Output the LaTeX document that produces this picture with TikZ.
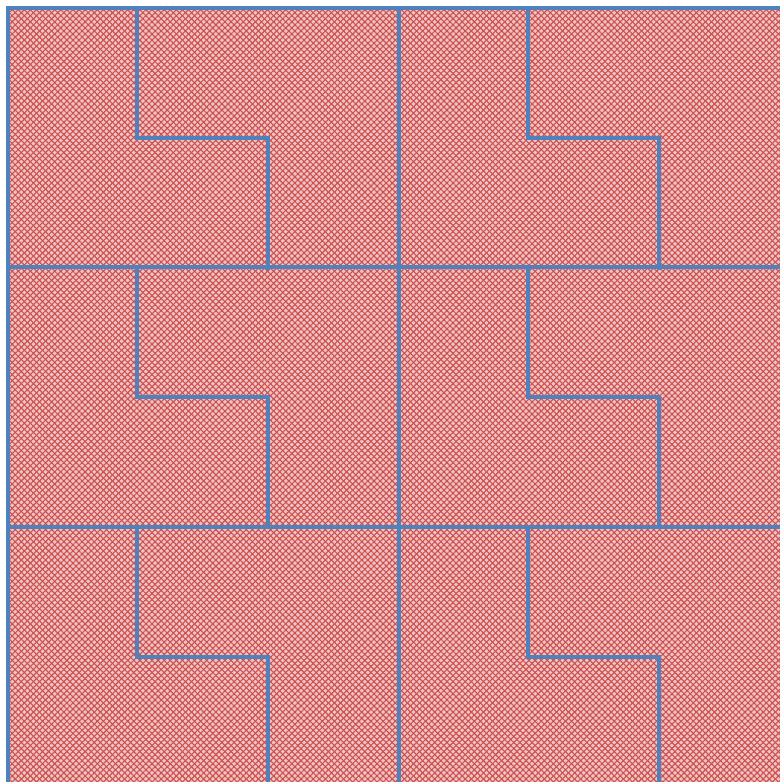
\documentclass[tikz,border=0pt]{standalone}
\usetikzlibrary{patterns.meta}
\definecolor{tileblue}{RGB}{79,129,189}
\definecolor{tilepink}{RGB}{240,195,195}
\definecolor{tilered}{RGB}{205,80,80}
\tikzset{
  tileline/.style={draw=tileblue,line width=3.6bp,line cap=rect},
  hatchA/.style={pattern={Lines[angle=45,distance=4.3bp,line width=1.1bp]},pattern color=tilered},
  hatchB/.style={pattern={Lines[angle=-45,distance=4.3bp,line width=1.1bp]},pattern color=tilered}
}
\begin{document}
\begin{tikzpicture}[x=1bp,y=-1bp]
\useasboundingbox (0,0) rectangle (780,782);
\fill[white] (0,0) rectangle (780,782);
\fill[tilepink] (8,8) rectangle (780,782);
\fill[hatchA] (8,8) rectangle (780,782);
\fill[hatchB] (8,8) rectangle (780,782);
% full lines
\draw[tileline] (8,782) -- (8,8) -- (780,8);
\draw[tileline] (399,8) -- (399,782);
\draw[tileline] (8,267) -- (780,267);
\draw[tileline] (8,527) -- (780,527);
% steps
\foreach \dx in {0,391}{
  \foreach \y in {8,267,527}{
    \draw[tileline] (137+\dx,\y) -- (137+\dx,\y+130) -- (268+\dx,\y+130) -- (268+\dx,\y+260);
  }
}
\end{tikzpicture}
\end{document}
